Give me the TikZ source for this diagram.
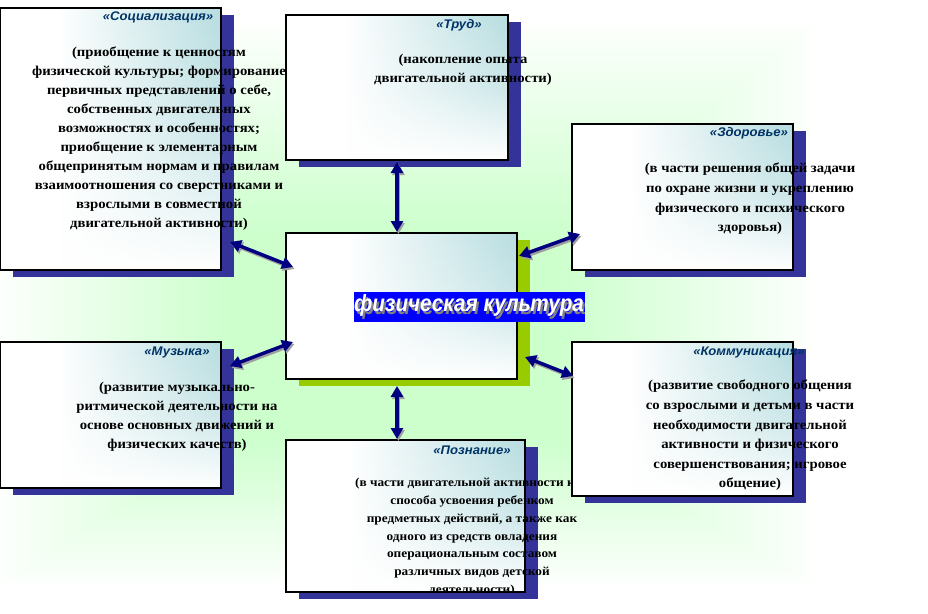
\documentclass[tikz,border=0pt]{standalone}
\usepackage{fontspec}
\setmainfont{Liberation Serif}
\newfontfamily\bodyfont[FakeStretch=1.09]{Liberation Serif}
\newfontfamily\titlefont[FakeStretch=1.05]{Liberation Sans}
\newfontfamily\labelfont[FakeStretch=0.88]{Liberation Sans}
\usetikzlibrary{arrows.meta,fadings,fit}

\definecolor{bggreen}{HTML}{CCFFCC}
\definecolor{boxteal}{HTML}{B7DDE0}
\definecolor{shadowblue}{HTML}{333399}
\definecolor{shadowgreen}{HTML}{99CC00}
\definecolor{titlenavy}{HTML}{003366}
\definecolor{arrownavy}{HTML}{000080}

\pgfdeclarehorizontalshading{boxshade}{100bp}{color(0bp)=(white); color(25bp)=(white); color(38bp)=(white); color(75bp)=(boxteal); color(100bp)=(boxteal)}
\tikzfading[name=fadeup, top color=transparent!100, bottom color=transparent!0, middle color=transparent!70]

\newcommand\drawbox[6]{%
  \fill[#6] (#2+13,#3+7) rectangle (#4+13,#5+7);
  \shade[shading=boxshade] (#2,#3) rectangle (#4,#5);
  \fill[white, path fading=fadeup] (#2,#3) rectangle (#4,#5);
  \node[fit={(#2,#3) (#4,#5)}, inner sep=0pt, draw=black, line width=1.2pt] (#1) {};
}

\tikzset{
  titletext/.style={font=\titlefont\bfseries\itshape\fontsize{12.5}{14}\selectfont, text=titlenavy, inner sep=0pt, anchor=center},
  bodytext/.style={font=\bodyfont\bfseries\fontsize{13.5}{19}\selectfont, align=center, inner sep=0pt, anchor=north},
  bodywide/.style={font=\bodyfont\bfseries\fontsize{13.5}{19.6}\selectfont, align=center, inner sep=0pt, anchor=north},
  bodysmall/.style={font=\bodyfont\bfseries\fontsize{12.2}{17.8}\selectfont, align=center, inner sep=0pt, anchor=north},
  arr/.style={{Triangle[length=11pt,width=12pt]}-{Triangle[length=11pt,width=12pt]}, line width=3.5pt, draw=arrownavy},
  arrsh/.style={{Triangle[length=11pt,width=12pt]}-{Triangle[length=11pt,width=12pt]}, line width=3.5pt, draw=gray!75, transform canvas={shift={(1.5pt,-2pt)}}}
}

\begin{document}
\begin{tikzpicture}[x=1pt,y=-1pt]
\fill[white] (0,0) rectangle (928,613);
\useasboundingbox (0,0) rectangle (928,613);
% rectangular green gradient background
\foreach \i in {0,...,40}{
  \pgfmathsetmacro\xa{0+\i/40*230}
  \pgfmathsetmacro\ya{25+\i/40*(230-25)}
  \pgfmathsetmacro\xb{812-\i/40*(812-560)}
  \pgfmathsetmacro\yb{584-\i/40*(584-440)}
  \pgfmathtruncatemacro\p{6+94*\i/40}
  \fill[bggreen!\p!white] (\xa,\ya) rectangle (\xb,\yb);
}

% Труд
\drawbox{T}{286}{15}{508}{160}{shadowblue}
\node[titletext] (Tt) at (459,25) {«Труд»};
\node[bodytext] (Tb) at (463,54) {(накопление опыта\\двигательной активности)};

% Социализация
\drawbox{S}{0}{8}{221}{270}{shadowblue}
\node[titletext] (St) at (158,17) {«Социализация»};
\node[bodytext] (Sb) at (159,47) {(приобщение к ценностям\\физической культуры;  формирование\\первичных представлений о себе,\\собственных двигательных\\возможностях и особенностях;\\приобщение к  элементарным\\общепринятым  нормам и правилам\\взаимоотношения со сверстниками и\\взрослыми в совместной\\двигательной активности)};

% Здоровье
\drawbox{Z}{572}{124}{793}{270}{shadowblue}
\node[titletext] (Zt) at (749,133) {«Здоровье»};
\node[bodywide] (Zb) at (750,163) {(в части решения общей задачи\\по охране жизни и укреплению\\физического и психического\\здоровья)};

% Музыка
\drawbox{M}{0}{342}{221}{488}{shadowblue}
\node[titletext] (Mt) at (177,352) {«Музыка»};
\node[bodytext] (Mb) at (177,382) {(развитие музыкально-\\ритмической деятельности на\\основе основных движений и\\физических качеств)};

% центр
\drawbox{C}{286}{233}{517}{379}{shadowgreen}
\node[fill=blue, minimum width=231pt, minimum height=30pt, inner sep=0pt] (Lbg) at (469.5,307) {};
\node[font=\labelfont\bfseries\itshape\fontsize{23.5}{24}\selectfont, text=white, inner sep=0pt] (L) at (469,306.5)
  {\makebox[0pt][l]{\hspace{2pt}\raisebox{-3pt}{\textcolor{gray}{физическая культура}}}физическая культура};

% Познание
\drawbox{P}{286}{440}{525}{592}{shadowblue}
\node[titletext] (Pt) at (472,450) {«Познание»};
\begin{scope}
\clip (0,0) rectangle (928,592);
\node[bodysmall] (Pb) at (472,478) {(в части двигательной активности как\\способа усвоения ребенком\\предметных действий, а также как\\одного из средств овладения\\операциональным составом\\различных видов детской\\деятельности)};
\end{scope}

% Коммуникация
\drawbox{K}{572}{342}{793}{496}{shadowblue}
\node[titletext] (Kt) at (749,352) {«Коммуникация»};
\node[bodywide] (Kb) at (750,380) {(развитие свободного общения\\со взрослыми и детьми в части\\необходимости двигательной\\активности и физического\\совершенствования; игровое\\общение)};

% стрелки
\coordinate (tc1) at (397,162); \coordinate (tc2) at (397,232);
\coordinate (cp1) at (397,386); \coordinate (cp2) at (397,439);
\coordinate (sc1) at (230,242); \coordinate (sc2) at (293,267);
\coordinate (zc1) at (580,234); \coordinate (zc2) at (519,256);
\coordinate (mc1) at (230,366); \coordinate (mc2) at (293,342);
\coordinate (kc1) at (525,357); \coordinate (kc2) at (573,376);
\foreach \a/\b in {tc1/tc2,cp1/cp2,sc1/sc2,zc1/zc2,mc1/mc2,kc1/kc2}{
  \draw[arrsh] (\a) -- (\b);
}
\foreach \a/\b in {tc1/tc2,cp1/cp2,sc1/sc2,zc1/zc2,mc1/mc2,kc1/kc2}{
  \draw[arr] (\a) -- (\b);
}
\end{tikzpicture}
\end{document}
